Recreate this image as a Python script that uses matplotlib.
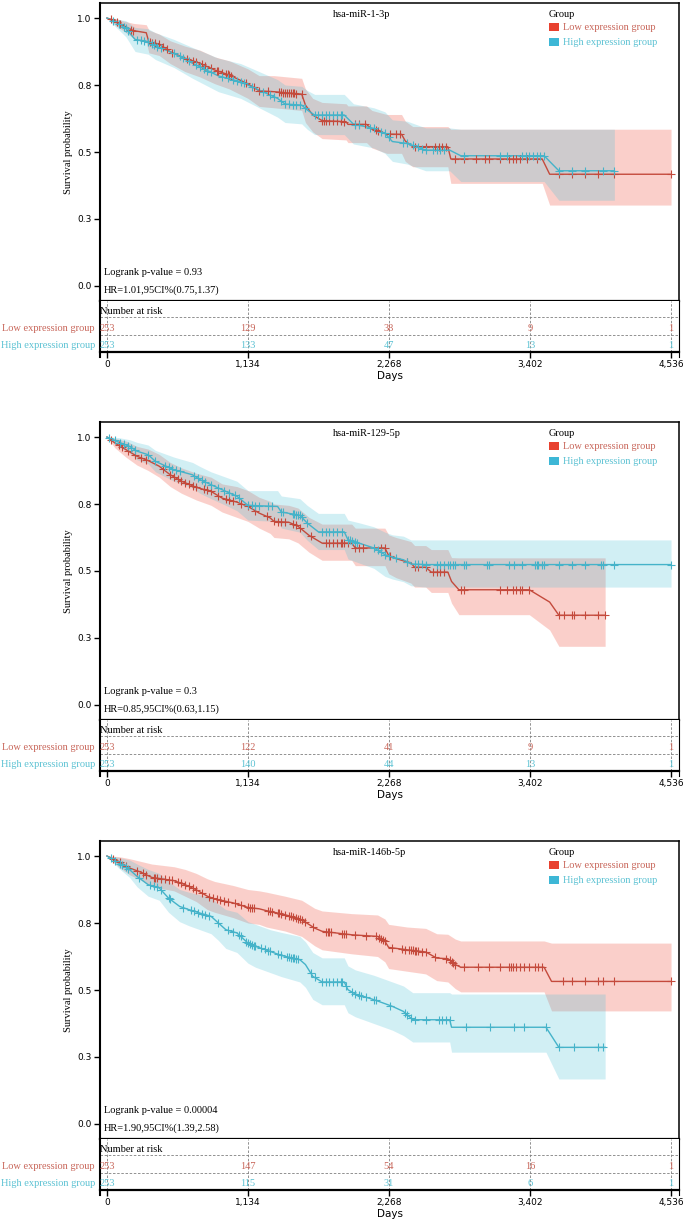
import numpy as np
import matplotlib.pyplot as plt
from matplotlib.patches import Rectangle

# ----------------------------------------------------------------------
# Data (three KM panels)
# ----------------------------------------------------------------------
titles = ["hsa-miR-1-3p", "hsa-miR-129-5p", "hsa-miR-146b-5p"]
pvals = ["Logrank p-value = 0.93", "Logrank p-value = 0.3", "Logrank p-value = 0.00004"]
hrs = ["HR=1.01,95CI%(0.75,1.37)", "HR=0.85,95CI%(0.63,1.15)", "HR=1.90,95CI%(1.39,2.58)"]
groups = ["Low expression group", "High expression group"]
risk_days = [0, 1134, 2268, 3402, 4536]
risk_labels = ["0", "1,134", "2,268", "3,402", "4,536"]
y_ticks = [0.0, 0.25, 0.5, 0.75, 1.0]
y_labels = ["0.0", "0.3", "0.5", "0.8", "1.0"]

risk_low = [[253, 129, 38, 9, 1], [253, 122, 41, 9, 1], [253, 147, 54, 16, 1]]
risk_high = [[253, 133, 47, 13, 1], [253, 140, 44, 13, 1], [253, 115, 31, 6, 1]]

# panel 1 -- low
p1_low_t = [0, 63, 123, 212, 316, 337, 420, 509, 628, 748, 866, 985, 1134, 1224, 1343, 1566,
            1596, 1655, 1730, 1923, 1938, 2087, 2131, 2250, 2369, 2399, 2459, 2741, 2765,
            3500, 3560, 4536]
p1_low_s = [1, .99, .974, .953, .945, .91, .903, .874, .85, .831, .806, .787, .754, .728, .725,
            .716, .675, .638, .617, .613, .603, .603, .585, .567, .566, .541, .52, .52, .474,
            .474, .417, .417]
p1_low_hi = [1, .998, .99, .98, .975, .955, .94, .915, .895, .88, .855, .84, .81, .785, .785,
             .775, .735, .70, .685, .68, .672, .672, .655, .64, .64, .615, .595, .595, .585,
             .585, .585, .585]
p1_low_lo = [1, .975, .955, .925, .91, .87, .86, .83, .80, .78, .755, .735, .70, .67, .665,
             .655, .61, .575, .55, .545, .535, .535, .515, .495, .495, .465, .445, .445, .383,
             .383, .302, .302]
p1_low_cens = [33, 78, 108, 197, 212, 346, 361, 390, 420, 450, 480, 524, 643, 688, 718, 762,
               792, 837, 881, 896, 926, 956, 971, 985, 1000, 1120, 1179, 1224, 1298, 1387,
               1402, 1417, 1432, 1447, 1462, 1477, 1492, 1506, 1521, 1566, 1730, 1744, 1759,
               1789, 1819, 1849, 1878, 1908, 1997, 2027, 2072, 2161, 2176, 2280, 2325, 2355,
               2474, 2563, 2637, 2667, 2697, 2727, 2801, 2875, 2965, 3039, 3069, 3158, 3232,
               3262, 3292, 3322, 3381, 3456, 3634, 3738, 3843, 3947, 4080, 4536]
# panel 1 -- high
p1_high_t = [0, 63, 152, 226, 331, 390, 539, 688, 896, 1075, 1224, 1372, 1432, 1566, 1610,
             1670, 1908, 1982, 2146, 2235, 2295, 2414, 2563, 2756, 2845, 3515, 3634, 4080]
p1_high_s = [1, .986, .961, .92, .912, .896, .868, .831, .784, .762, .731, .70, .679, .675,
             .657, .638, .638, .604, .588, .57, .539, .532, .507, .507, .486, .486, .43, .43]
p1_high_hi = [1, .998, .99, .965, .96, .945, .92, .89, .85, .83, .80, .77, .75, .745, .73,
              .715, .715, .68, .665, .65, .62, .615, .59, .59, .585, .585, .585, .585]
p1_high_lo = [1, .97, .93, .875, .865, .845, .815, .775, .725, .70, .665, .63, .61, .605,
              .585, .565, .565, .53, .515, .495, .465, .455, .43, .43, .39, .39, .32, .32]
p1_high_cens = [48, 93, 137, 152, 167, 242, 271, 301, 331, 361, 375, 405, 435, 539, 584, 614,
                658, 718, 748, 777, 807, 837, 926, 971, 1015, 1045, 1075, 1105, 1164, 1253,
                1313, 1343, 1402, 1432, 1462, 1492, 1521, 1551, 1596, 1670, 1700, 1730, 1759,
                1789, 1819, 1849, 1878, 1893, 1997, 2027, 2116, 2146, 2206, 2235, 2265, 2384,
                2414, 2459, 2503, 2533, 2563, 2622, 2652, 2682, 2712, 2875, 3158, 3218, 3337,
                3366, 3396, 3426, 3456, 3485, 3515, 3634, 3738, 3843, 3991, 4080]

# panel 2 -- low
p2_low_t = [0, 63, 152, 242, 331, 420, 509, 599, 718, 837, 926, 1045, 1134, 1224, 1313, 1343,
            1462, 1536, 1625, 1730, 1968, 1997, 2235, 2265, 2325, 2444, 2474, 2563, 2608,
            2741, 2771, 2830, 3396, 3560, 3634, 4006]
p2_low_s = [1, .978, .953, .928, .912, .891, .859, .835, .812, .797, .772, .757, .741, .716,
            .698, .685, .682, .667, .633, .604, .604, .586, .586, .558, .546, .53, .514, .514,
            .496, .496, .461, .43, .43, .384, .335, .335]
p2_low_hi = [1, .995, .985, .965, .955, .935, .905, .885, .865, .85, .825, .815, .80, .775,
             .76, .75, .745, .735, .70, .675, .675, .66, .66, .635, .625, .61, .595, .595, .58,
             .58, .55, .549, .549, .549, .549, .549]
p2_low_lo = [1, .96, .925, .895, .875, .85, .815, .79, .765, .745, .72, .70, .685, .66, .64,
             .625, .62, .605, .57, .54, .54, .52, .52, .49, .475, .455, .44, .44, .42, .42,
             .38, .337, .337, .28, .219, .219]
p2_low_cens = [33, 93, 123, 167, 227, 271, 316, 450, 509, 539, 569, 599, 628, 658, 688, 718,
               777, 807, 837, 896, 956, 985, 1015, 1075, 1134, 1194, 1283, 1343, 1372, 1402,
               1432, 1492, 1521, 1551, 1640, 1759, 1789, 1819, 1849, 1878, 1893, 1908, 1938,
               1997, 2027, 2057, 2206, 2235, 2280, 2414, 2474, 2503, 2563, 2622, 2652, 2682,
               2712, 2845, 2875, 3158, 3218, 3262, 3292, 3322, 3337, 3396, 3634, 3679, 3738,
               3753, 3843, 3947, 4006]
# panel 2 -- high
p2_high_t = [0, 93, 182, 242, 331, 390, 539, 688, 748, 837, 956, 1045, 1134, 1372, 1402,
             1551, 1610, 1700, 1908, 1938, 2027, 2146, 2235, 2295, 2384, 2444, 2563, 4536]
p2_high_s = [1, .981, .965, .947, .934, .909, .878, .859, .841, .822, .797, .779, .745, .741,
             .72, .708, .679, .646, .646, .617, .604, .586, .561, .551, .542, .526, .524, .524]
p2_high_hi = [1, .998, .99, .98, .97, .95, .925, .905, .89, .87, .85, .835, .80, .80, .78,
              .77, .745, .715, .715, .69, .68, .665, .645, .635, .63, .616, .616, .616]
p2_high_lo = [1, .965, .94, .915, .90, .87, .835, .81, .79, .77, .745, .725, .69, .685, .66,
              .645, .615, .58, .58, .545, .53, .51, .48, .47, .46, .445, .44, .44]
p2_high_cens = [18, 63, 108, 137, 167, 197, 227, 331, 390, 465, 495, 524, 554, 584, 703, 733,
                762, 792, 837, 896, 941, 985, 1030, 1060, 1134, 1164, 1194, 1224, 1298, 1328,
                1402, 1417, 1492, 1506, 1521, 1536, 1551, 1566, 1610, 1730, 1759, 1789, 1819,
                1849, 1893, 1938, 1953, 1968, 1997, 2012, 2146, 2176, 2206, 2235, 2265, 2325,
                2414, 2474, 2503, 2533, 2563, 2652, 2682, 2712, 2741, 2756, 2786, 2801, 2875,
                2890, 3054, 3069, 3232, 3277, 3337, 3441, 3456, 3470, 3500, 3515, 3634, 3738,
                3843, 3976, 3991, 4080, 4536]

# panel 3 -- low
p3_low_t = [0, 93, 182, 271, 361, 539, 628, 718, 807, 866, 1015, 1134, 1224, 1283, 1432, 1566,
            1670, 1730, 1968, 2176, 2235, 2265, 2414, 2563, 2652, 2741, 2801, 2845, 3515,
            3575, 4536]
p3_low_s = [1, .98, .955, .94, .92, .908, .893, .874, .85, .84, .825, .808, .803, .796, .781,
            .762, .731, .719, .706, .70, .682, .659, .65, .642, .619, .617, .595, .585, .585,
            .532, .532]
p3_low_hi = [1, .998, .99, .98, .97, .96, .95, .935, .915, .905, .89, .875, .87, .865, .85,
             .835, .805, .795, .785, .78, .765, .745, .735, .73, .71, .708, .69, .683, .683,
             .675, .675]
p3_low_lo = [1, .96, .93, .91, .885, .87, .85, .83, .80, .79, .77, .75, .745, .735, .72, .70,
             .665, .65, .635, .625, .605, .58, .57, .56, .535, .53, .505, .493, .493, .422,
             .422]
p3_low_cens = [48, 108, 152, 242, 286, 316, 375, 390, 405, 435, 465, 495, 524, 569, 599, 628,
               658, 688, 718, 762, 822, 852, 881, 911, 941, 971, 1030, 1075, 1134, 1149, 1164,
               1179, 1298, 1313, 1328, 1372, 1387, 1402, 1432, 1462, 1477, 1492, 1521, 1536,
               1551, 1566, 1596, 1655, 1759, 1774, 1789, 1804, 1893, 1908, 1923, 1997, 2087,
               2161, 2191, 2206, 2221, 2235, 2295, 2369, 2399, 2429, 2444, 2459, 2474, 2488,
               2503, 2533, 2563, 2637, 2727, 2756, 2771, 2786, 2801, 2875, 2980, 3069, 3158,
               3232, 3247, 3262, 3292, 3322, 3351, 3396, 3441, 3470, 3500, 3664, 3738, 3843,
               3947, 3991, 4080, 4536]
# panel 3 -- high
p3_high_t = [0, 93, 182, 242, 331, 420, 495, 584, 658, 748, 837, 896, 956, 1045, 1134, 1194,
             1313, 1402, 1551, 1596, 1655, 1730, 1908, 1938, 1997, 2146, 2295, 2384, 2459,
             2756, 2771, 3530, 3634, 4006]
p3_high_s = [1, .974, .949, .924, .893, .881, .843, .812, .80, .787, .775, .75, .725, .713,
             .675, .663, .644, .629, .613, .595, .551, .53, .53, .501, .485, .464, .439, .42,
             .389, .389, .361, .361, .286, .286]
p3_high_hi = [1, .995, .985, .97, .95, .935, .905, .875, .865, .855, .845, .82, .80, .79,
              .755, .745, .725, .715, .70, .68, .64, .62, .62, .59, .575, .555, .53, .515, .49,
              .49, .485, .485, .485, .485]
p3_high_lo = [1, .955, .92, .885, .85, .835, .79, .755, .74, .725, .71, .685, .655, .64, .60,
              .585, .565, .55, .53, .51, .465, .445, .445, .415, .40, .375, .35, .33, .306,
              .306, .268, .268, .168, .168]
p3_high_cens = [33, 63, 108, 123, 152, 167, 256, 346, 375, 405, 435, 495, 509, 614, 673, 703,
                733, 762, 792, 822, 896, 971, 1015, 1060, 1075, 1120, 1134, 1149, 1164, 1179,
                1194, 1239, 1268, 1298, 1313, 1372, 1402, 1447, 1462, 1477, 1492, 1506, 1521,
                1536, 1640, 1670, 1730, 1759, 1789, 1819, 1849, 1878, 1893, 1923, 1968, 1997,
                2027, 2042, 2087, 2146, 2161, 2280, 2399, 2414, 2444, 2474, 2563, 2667, 2697,
                2727, 2756, 2890, 3084, 3277, 3351, 3530, 3634, 3753, 3947, 3991]

curves_low = [(p1_low_t, p1_low_s, p1_low_lo, p1_low_hi, p1_low_cens),
              (p2_low_t, p2_low_s, p2_low_lo, p2_low_hi, p2_low_cens),
              (p3_low_t, p3_low_s, p3_low_lo, p3_low_hi, p3_low_cens)]
curves_high = [(p1_high_t, p1_high_s, p1_high_lo, p1_high_hi, p1_high_cens),
               (p2_high_t, p2_high_s, p2_high_lo, p2_high_hi, p2_high_cens),
               (p3_high_t, p3_high_s, p3_high_lo, p3_high_hi, p3_high_cens)]

# ----------------------------------------------------------------------
# Styling
# ----------------------------------------------------------------------
SERIF = "Liberation Serif"
line_col = ["#C44A3C", "#45B3C9"]
fill_col = ["#EF432F", "#4BC0D7"]
patch_col = ["#E8412F", "#3DB7D6"]
text_col = ["#C8665A", "#5CC2D3"]

W, H = 685, 1223
fig = plt.figure(figsize=(W / 100, H / 100), dpi=100)


def px_axes(left, top, right, bottom):
    return fig.add_axes([left / W, 1 - bottom / H, (right - left) / W, (bottom - top) / H])


for i in range(3):
    off = 419 * i
    ax = px_axes(100, 3 + off, 679, 301 + off)
    tab = px_axes(100, 301 + off, 679, 352 + off)

    for k, cv in enumerate([curves_low[i], curves_high[i]]):
        t, s, lo, hi, cens = (np.asarray(a, float) for a in cv)
        ax.fill_between(t, lo, hi, color=fill_col[k], alpha=0.25, lw=0, zorder=1)
    for k, cv in enumerate([curves_low[i], curves_high[i]]):
        t, s, lo, hi, cens = (np.asarray(a, float) for a in cv)
        ax.plot(t, s, color=line_col[k], lw=1.0, zorder=3)
        ax.plot(cens, np.interp(cens, t, s), ls="none", marker="+", ms=5.5, mew=0.8,
                color=line_col[k], zorder=4)

    ax.set_xlim(-56, 4600)
    ax.set_ylim(-0.056, 1.056)
    ax.set_yticks(y_ticks)
    ax.set_yticklabels(y_labels, fontsize=6.5)
    ax.set_xticks([])
    ax.tick_params(axis="y", length=4, width=1, pad=2)
    for sp in ax.spines.values():
        sp.set_linewidth(1.1)
    ax.spines["left"].set_linewidth(1.5)
    ax.spines["bottom"].set_linewidth(1.6)
    ax.set_ylabel("Survival probability", family=SERIF, fontsize=7.5, labelpad=3)

    ax.text(0.402, 0.962, titles[i], transform=ax.transAxes, family=SERIF, fontsize=7.5,
            ha="left", va="center")
    ax.text(0.007, 0.094, pvals[i], transform=ax.transAxes, family=SERIF, fontsize=7.5,
            ha="left", va="center")
    ax.text(0.007, 0.037, hrs[i], transform=ax.transAxes, family=SERIF, fontsize=7.5,
            ha="left", va="center")

    # legend drawn by hand
    ax.text(0.775, 0.963, "Group", transform=ax.transAxes, family=SERIF, fontsize=7.5,
            ha="left", va="center")
    for k, yy in enumerate([0.919, 0.869]):
        ax.add_patch(Rectangle((0.776, yy - 0.014), 0.017, 0.028, transform=ax.transAxes,
                               color=patch_col[k], lw=0))
        ax.text(0.799, yy, groups[k], transform=ax.transAxes, family=SERIF, fontsize=7.5,
                color=text_col[k], ha="left", va="center")

    # risk table
    tab.set_xlim(-56, 4600)
    tab.set_ylim(0, 1)
    tab.set_yticks([])
    tab.set_xticks(risk_days)
    tab.set_xticklabels(risk_labels, fontsize=6.5)
    tab.tick_params(axis="x", length=4, width=1, pad=2)
    tab.spines["top"].set_visible(False)
    tab.spines["bottom"].set_linewidth(1.6)
    tab.spines["left"].set_linewidth(1.5)
    tab.spines["left"].set_bounds(-0.1, 1)
    tab.spines["right"].set_bounds(-0.1, 1)
    for d in risk_days:
        tab.axvline(d, color="#808080", ls="--", lw=0.6, dashes=(3, 2))
    for yy in [0.686, 0.333]:
        tab.axhline(yy, color="#808080", ls="--", lw=0.6, dashes=(3, 2))
    tab.text(0.0, 0.80, "Number at risk", transform=tab.transAxes, family=SERIF,
             fontsize=7.5, ha="left", va="center")
    for k, (row, yy) in enumerate(zip([risk_low[i], risk_high[i]], [0.47, 0.12])):
        tab.text(-0.009, yy, groups[k], transform=tab.transAxes, family=SERIF, fontsize=7.5,
                 color=text_col[k], ha="right", va="center")
        for d, n in zip(risk_days, row):
            tab.text(d, yy, str(n), family=SERIF, fontsize=7.5, color=text_col[k],
                     ha="center", va="center")
    tab.set_xlabel("Days", fontsize=7.5, labelpad=1)

fig.savefig("out.png", dpi=100)
